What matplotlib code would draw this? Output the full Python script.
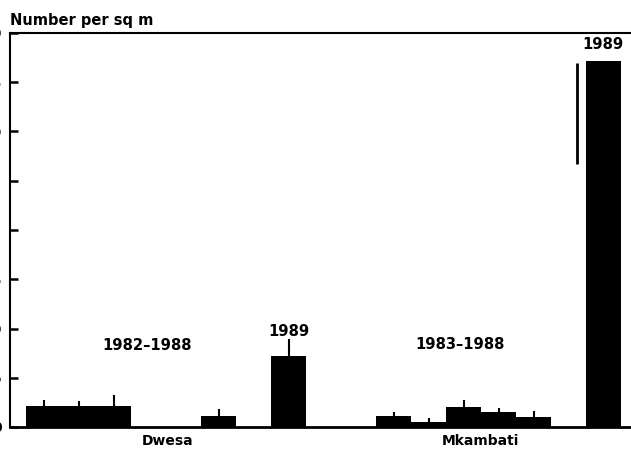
import matplotlib
matplotlib.use("Agg")
import matplotlib.pyplot as plt

# ---- data ----
dwesa_years = ["1982", "1983", "1984", "1985", "1986", "1987", "1988"]
dwesa_means = [2.1, 2.1, 2.1, 0.0, 0.0, 1.1, 0.0]
dwesa_errs = [0.65, 0.55, 1.1, 0.0, 0.0, 0.75, 0.0]
dwesa_1989_mean = 7.2
dwesa_1989_err = 1.75

mkambati_years = ["1983", "1984", "1985", "1986", "1987", "1988"]
mkambati_means = [1.1, 0.55, 2.05, 1.55, 1.0, 0.0]
mkambati_errs = [0.4, 0.35, 0.7, 0.37, 0.62, 0.0]
mkambati_1989_mean = 37.2
mkambati_1989_err = 10.5

site_labels = ["Dwesa", "Mkambati"]
period_labels = ["1982\u20131988", "1983\u20131988"]
y_ticks = [0, 5, 10, 15, 20, 25, 30, 35, 40]
title = "Number per sq m"

# ---- layout ----
W, H = 631, 451
fig = plt.figure(figsize=(W / 100, H / 100), dpi=100)
ax = fig.add_axes([10 / W, (H - 427) / H, 1 - 10 / W, (427 - 33) / H])

FONT = dict(family="DejaVu Sans", fontweight="bold", fontsize=10)
FONT_L = dict(family="DejaVu Sans", fontweight="bold", fontsize=10.6)

dwesa_start = 0
dwesa_1989_pos = 7
mk_start = 10
mk_1989_pos = 16


def draw_group(start, means, errs):
    xs = [start + i for i in range(len(means))]
    ax.bar(xs, means, width=1.0, align="edge", color="black", linewidth=0)
    for x, m, e in zip(xs, means, errs):
        if m > 0 and e > 0:
            ax.vlines(x + 0.5, m, m + e, color="black", linewidth=1.5)


draw_group(dwesa_start, dwesa_means, dwesa_errs)
draw_group(dwesa_1989_pos, [dwesa_1989_mean], [dwesa_1989_err])
draw_group(mk_start, mkambati_means, mkambati_errs)

# Mkambati 1989: big bar with the error line drawn beside it
ax.bar([mk_1989_pos], [mkambati_1989_mean], width=1.0, align="edge",
       color="black", linewidth=0)
ax.vlines(mk_1989_pos - 0.25, mkambati_1989_mean - mkambati_1989_err,
          mkambati_1989_mean - 0.2, color="black", linewidth=2)

# annotations
ax.text(3.45, 8.3, period_labels[0], ha="center", va="center", **FONT_L)
ax.text(12.4, 8.35, period_labels[1], ha="center", va="center", **FONT_L)
ax.text(dwesa_1989_pos + 0.5, 9.72, "1989", ha="center", va="center", **FONT_L)
ax.text(mk_1989_pos + 0.47, 38.8, "1989", ha="center", va="center", **FONT_L)

# axes styling
ax.set_xlim((10 - 26) / 35, (631 - 26) / 35)
ax.set_ylim(0, 40)
ax.set_yticks(y_ticks)
ax.set_yticklabels([str(t) for t in y_ticks], **FONT)
ax.tick_params(axis="y", direction="in", length=6, width=1.8, pad=6)
ax.set_xticks([4.04, 12.97])
ax.set_xticklabels(site_labels, **FONT)
ax.tick_params(axis="x", length=0, pad=5)

ax.spines["right"].set_visible(False)
ax.spines["bottom"].set_linewidth(2.0)
ax.spines["left"].set_linewidth(1.5)
ax.spines["top"].set_linewidth(1.5)

fig.text(10 / W, 1 - 20 / H, title, ha="left", va="center",
         family="DejaVu Sans", fontweight="bold", fontsize=10.5)

fig.savefig("out.png", dpi=100)
